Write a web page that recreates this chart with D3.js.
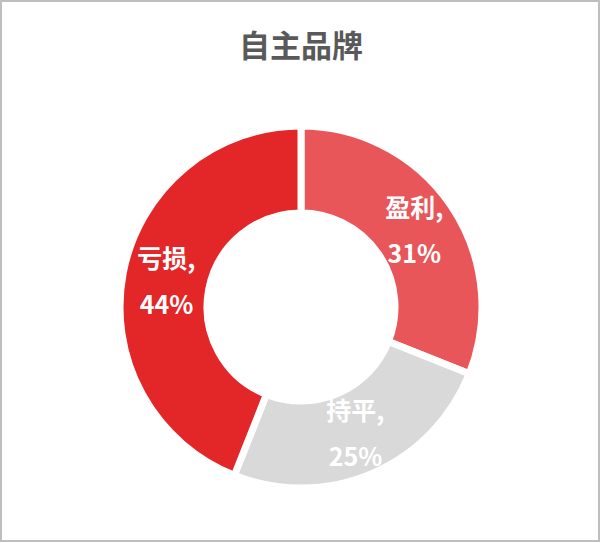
<!DOCTYPE html>
<html>
<head>
<meta charset="utf-8">
<script src="https://cdn.jsdelivr.net/npm/d3@7"></script>
<style>
  body { margin: 0; background: #fff; }
  svg { display: block; }
</style>
</head>
<body>
<svg id="donut"></svg>
<script>
// Chart data
const categories = ['盈利', '持平', '亏损'];
const shares = [31, 25, 44];
const colors = ['#E8565A', '#D9D9D9', '#E32628'];
const title = '自主品牌';

const width = 600;
const height = 543;
const cx = 301, cy = 307;
const outerR = 181, innerR = 94;

let svg = d3.select('#donut')
    .attr('width', width)
    .attr('height', height);

// frame
svg.append('rect')
    .attr('x', 1).attr('y', 1)
    .attr('width', width - 2).attr('height', height - 3)
    .attr('fill', '#fff')
    .attr('stroke', '#BFBFBF')
    .attr('stroke-width', 2);

svg.append('text')
    .attr('x', cx)
    .attr('y', 57)
    .attr('text-anchor', 'middle')
    .attr('font-family', '"Noto Sans CJK SC", sans-serif')
    .attr('font-weight', 'bold')
    .attr('font-size', 31)
    .attr('fill', '#595959')
    .text(title);

let data = categories.map((c, i) => ({ name: c, value: shares[i], color: colors[i] }));

let pie = d3.pie()
    .value(d => d.value)
    .sort(null);

let arc = d3.arc()
    .innerRadius(innerR)
    .outerRadius(outerR);

let g = svg.append('g')
    .attr('transform', 'translate(' + cx + ',' + cy + ')');

let arcs = pie(data);

g.selectAll('path')
    .data(arcs)
    .enter().append('path')
    .attr('d', arc)
    .attr('fill', d => d.data.color)
    .attr('stroke', '#fff')
    .attr('stroke-width', 7);

// labels at ring centroid, two lines
let labelArc = d3.arc()
    .innerRadius(137)
    .outerRadius(137);

let labels = g.selectAll('text.lbl')
    .data(arcs)
    .enter().append('text')
    .attr('class', 'lbl')
    .attr('text-anchor', 'middle')
    .attr('font-family', '"Noto Sans CJK SC", sans-serif')
    .attr('font-weight', 'bold')
    .attr('font-size', 25)
    .attr('fill', '#fff')
    .attr('transform', d => 'translate(' + labelArc.centroid(d) + ')');

labels.append('tspan')
    .attr('x', 0)
    .attr('y', -13)
    .text(d => d.data.name + ',');

labels.append('tspan')
    .attr('x', 0)
    .attr('y', 33)
    .text(d => d.data.value + '%');
</script>
</body>
</html>
